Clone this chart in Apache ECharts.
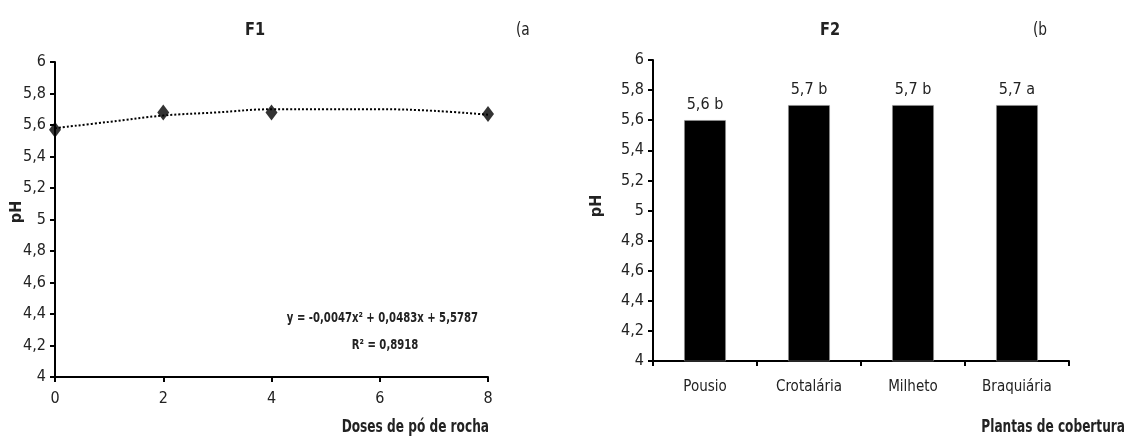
<!DOCTYPE html>
<html>
<head>
<meta charset="utf-8">
<script src="https://cdn.jsdelivr.net/npm/echarts@6/dist/echarts.min.js"></script>
<style>
html,body{margin:0;padding:0;background:#fff;}
#chart{width:1128px;height:443px;}
</style>
</head>
<body>
<div id="chart"></div>
<script>
// ---- data ----
const doses = [0, 2, 4, 8];
const phDoses = [5.57, 5.68, 5.68, 5.67];
const trendX = [0, 1, 2, 3, 4, 5, 6, 7, 8];
const trendY = [5.58, 5.62, 5.66, 5.68, 5.70, 5.70, 5.70, 5.69, 5.665];
const plantas = ['Pousio', 'Crotalária', 'Milheto', 'Braquiária'];
const phPlantas = [5.6, 5.7, 5.7, 5.7];
const letras = ['b', 'b', 'b', 'a'];
const xTicks = [0, 2, 4, 6, 8];

const FONT = "'Liberation Sans Narrow', 'DejaVu Sans Condensed', 'Arial Narrow', sans-serif";
const fmt = v => String(Math.round(v * 10) / 10).replace('.', ',');

const axisLine = {show: true, lineStyle: {color: '#000', width: 2}};
const axisTick = {show: true, inside: false, length: 5, lineStyle: {color: '#000', width: 2}};
const lbl = {color: '#222', fontFamily: FONT, fontSize: 16};

const chart = echarts.init(document.getElementById('chart'));
chart.setOption({
  backgroundColor: '#fff',
  animation: false,
  grid: [
    {left: 55, top: 62, width: 433, height: 315},
    {left: 653, top: 60, width: 416, height: 301}
  ],
  xAxis: [
    {type: 'value', gridIndex: 0, min: 0, max: 8, interval: 2,
     axisLine, axisTick, splitLine: {show: false},
     axisLabel: Object.assign({}, lbl, {margin: 14, formatter: v => xTicks.includes(v) ? String(v) : ''})},
    {type: 'category', gridIndex: 1, data: plantas,
     axisLine, axisTick: Object.assign({}, axisTick, {alignWithLabel: false}),
     splitLine: {show: false},
     axisLabel: Object.assign({}, lbl, {margin: 19, fontSize: 15})}
  ],
  yAxis: [
    {type: 'value', gridIndex: 0, min: 4, max: 6, interval: 0.2,
     axisLine, axisTick, splitLine: {show: false},
     axisLabel: Object.assign({}, lbl, {margin: 9, formatter: fmt})},
    {type: 'value', gridIndex: 1, min: 4, max: 6, interval: 0.2,
     axisLine, axisTick, splitLine: {show: false},
     axisLabel: Object.assign({}, lbl, {margin: 9, formatter: fmt})}
  ],
  series: [
    {type: 'line', xAxisIndex: 0, yAxisIndex: 0, smooth: 0.4, symbol: 'none',
     data: trendX.map((x, i) => [x, trendY[i]]),
     lineStyle: {color: '#000', width: 2, type: 'dotted'}, z: 2},
    {type: 'scatter', xAxisIndex: 0, yAxisIndex: 0, symbol: 'diamond', symbolSize: [12, 16],
     data: doses.map((x, i) => [x, phDoses[i]]),
     itemStyle: {color: '#000'}, z: 3},
    {type: 'bar', xAxisIndex: 1, yAxisIndex: 1, barWidth: '40%',
     data: phPlantas,
     itemStyle: {color: '#000', borderColor: '#999', borderWidth: 0.5},
     label: {show: true, position: 'top', distance: 7, color: '#222', fontFamily: FONT, fontSize: 16,
             formatter: p => fmt(p.value) + ' ' + letras[p.dataIndex]}}
  ],
  graphic: [
    {type: 'text', x: 255, y: 30, scaleX: 0.9, style: {text: 'F1', font: "bold 18px " + FONT, fill: '#222', align: 'center', verticalAlign: 'middle'}},
    {type: 'text', x: 516, y: 30, scaleX: 0.85, style: {text: '(a', font: "18px " + FONT, fill: '#222', verticalAlign: 'middle'}},
    {type: 'text', x: 830, y: 30, scaleX: 0.9, style: {text: 'F2', font: "bold 18px " + FONT, fill: '#222', align: 'center', verticalAlign: 'middle'}},
    {type: 'text', x: 1033, y: 30, scaleX: 0.85, style: {text: '(b', font: "18px " + FONT, fill: '#222', verticalAlign: 'middle'}},
    {type: 'text', x: 17, y: 212, rotation: Math.PI / 2,
     style: {text: 'pH', font: "bold 16px " + FONT, fill: '#222', align: 'center', verticalAlign: 'middle'}},
    {type: 'text', x: 597, y: 206, rotation: Math.PI / 2,
     style: {text: 'pH', font: "bold 16px " + FONT, fill: '#222', align: 'center', verticalAlign: 'middle'}},
    {type: 'text', x: 489, y: 427, scaleX: 0.75,
     style: {text: 'Doses de pó de rocha', font: "bold 18px " + FONT, fill: '#222', align: 'right', verticalAlign: 'middle'}},
    {type: 'text', x: 1125, y: 427, scaleX: 0.75,
     style: {text: 'Plantas de cobertura', font: "bold 18px " + FONT, fill: '#222', align: 'right', verticalAlign: 'middle'}},
    {type: 'text', x: 478, y: 318, scaleX: 0.8,
     style: {text: 'y = -0,0047x² + 0,0483x + 5,5787', font: "bold 14px " + FONT, fill: '#222', align: 'right', verticalAlign: 'middle'}},
    {type: 'text', x: 385, y: 345, scaleX: 0.8,
     style: {text: 'R² = 0,8918', font: "bold 14px " + FONT, fill: '#222', align: 'center', verticalAlign: 'middle'}}
  ]
});
</script>
</body>
</html>
